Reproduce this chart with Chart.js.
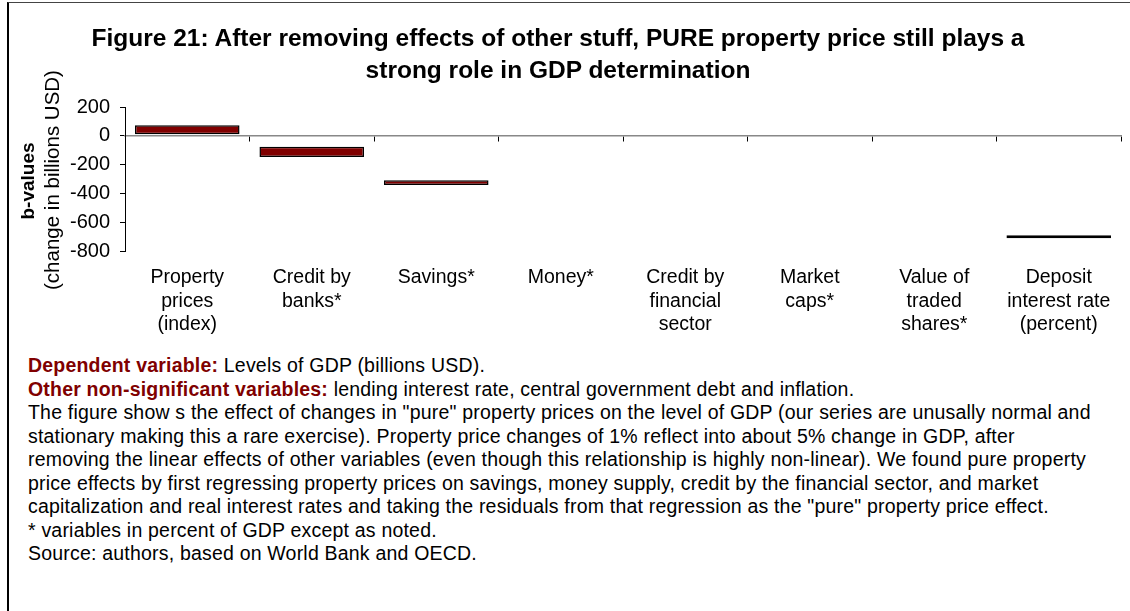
<!DOCTYPE html>
<html>
<head>
<meta charset="utf-8">
<script src="https://cdn.jsdelivr.net/npm/chart.js@4.4.0/dist/chart.umd.min.js"></script>
<style>
  body { margin: 0; background: #fff; font-family: "Liberation Sans", Arial, sans-serif; color: #000; }
  #wrap { position: relative; width: 1130px; height: 611px; overflow: hidden; }
  #frame { position: absolute; left: 7px; top: 2px; width: 1200px; height: 700px; border-left: 2px solid #000; border-top: 1px solid #444; }
  #title { position: absolute; left: -7px; width: 1130px; top: 22px; text-align: center; font-weight: bold; font-size: 24.5px; line-height: 32px; }
  .ytitle { position: absolute; white-space: nowrap; transform: translate(-50%, -50%) rotate(-90deg); }
  #box { position: absolute; left: 0; top: 0; width: 1130px; height: 345px; }
  #notes { position: absolute; left: 28px; top: 354px; font-size: 19.5px; line-height: 23.5px; letter-spacing: 0.2px; white-space: nowrap; }
  .hl { color: #800000; font-weight: bold; }
</style>
</head>
<body>
<div id="wrap">
  <div id="frame"></div>
  <div id="box"><canvas id="chart"></canvas></div>
  <div id="title">Figure 21: After removing effects of other stuff, PURE property price still plays a<br>strong role in GDP determination</div>
  <div class="ytitle" style="left:28px; top:181px; font-weight:bold; font-size:19px;">b-values</div>
  <div class="ytitle" style="left:52px; top:180px; font-size:20.5px;">(change in billions USD)</div>
  <div id="notes">
    <span class="hl">Dependent variable:</span> Levels of GDP (billions USD).<br>
    <span class="hl">Other non-significant variables:</span> lending interest rate, central government debt and inflation.<br>
    The figure show s the effect of changes in "pure" property prices on the level of GDP (our series are unusally normal and<br>
    stationary making this a rare exercise). Property price changes of 1% reflect into about 5% change in GDP, after<br>
    removing the linear effects of other variables (even though this relationship is highly non-linear). We found pure property<br>
    price effects by first regressing property prices on savings, money supply, credit by the financial sector, and market<br>
    capitalization and real interest rates and taking the residuals from that regression as the "pure" property price effect.<br>
    * variables in percent of GDP except as noted.<br>
    Source: authors, based on World Bank and OECD.
  </div>
</div>
<script>
const categories = [
  ["Property", "prices", "(index)"],
  ["Credit by", "banks*"],
  ["Savings*"],
  ["Money*"],
  ["Credit by", "financial", "sector"],
  ["Market", "caps*"],
  ["Value of", "traded", "shares*"],
  ["Deposit", "interest rate", "(percent)"]
];
// each b-value is drawn as a floating bar from low to high
const barLow  = [10, -148, -342, null, null, null, null, -711];
const barHigh = [74,  -76, -308, null, null, null, null, -690];
const yTicks = [200, 0, -200, -400, -600, -800];

const barData = categories.map((c, i) => barLow[i] === null ? null : [barLow[i], barHigh[i]]);

const ctx = document.getElementById("chart").getContext("2d");
new Chart(ctx, {
  type: "bar",
  data: {
    labels: categories,
    datasets: [{
      label: "b-values",
      data: barData,
      backgroundColor: "#800000",
      borderColor: "#000",
      borderWidth: 1.5,
      borderSkipped: false,
      barPercentage: 0.84,
      categoryPercentage: 1.0
    }]
  },
  options: {
    responsive: true,
    maintainAspectRatio: false,
    animation: false,
    layout: { padding: { top: 107, right: 9, left: 0, bottom: 0 } },
    plugins: { legend: { display: false }, tooltip: { enabled: false } },
    scales: {
      x: {
        position: "bottom",
        offset: true,
        grid: { display: false, drawTicks: false },
        border: { display: false },
        ticks: {
          color: "#000",
          font: { family: "'Liberation Sans', Arial, sans-serif", size: 19.5, lineHeight: "23.5px" },
          padding: 15,
          maxRotation: 0,
          autoSkip: false
        },
        afterFit: s => { s.height = 94; }
      },
      x0: {
        type: "category",
        position: { y: 0 },
        offset: true,
        grid: { offset: true, drawOnChartArea: false, tickLength: 5, color: "#000", lineWidth: 1 },
        border: { color: "#888", width: 1.5 },
        ticks: { display: false }
      },
      y: {
        min: yTicks[yTicks.length - 1],
        max: yTicks[0],
        afterBuildTicks: s => { s.ticks = yTicks.map(v => ({ value: v })); },
        grid: { drawOnChartArea: false, tickLength: 5, color: "#000" },
        border: { color: "#000", width: 1 },
        ticks: {
          color: "#000",
          font: { family: "'Liberation Sans', Arial, sans-serif", size: 20 },
          padding: 10
        },
        afterFit: s => { s.width = 125; }
      }
    }
  }
});
</script>
</body>
</html>
